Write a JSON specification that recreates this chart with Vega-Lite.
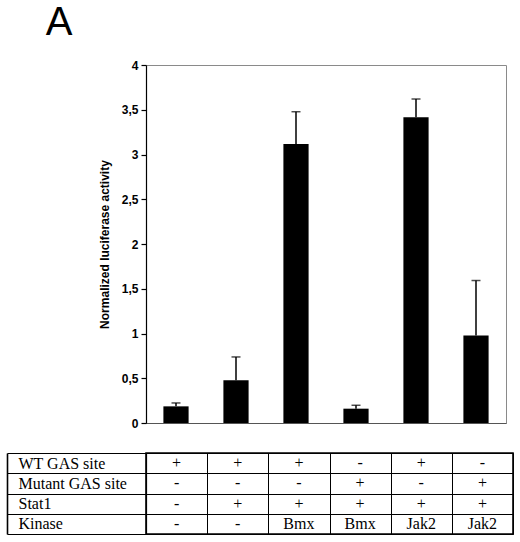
{
  "$schema": "https://vega.github.io/schema/vega-lite/v6.json",
  "padding": {"left": 5, "top": 2, "right": 5, "bottom": 5},
  "background": "white",
  "title": {"text": "A", "anchor": "start", "frame": "bounds", "font": "Liberation Sans", "fontSize": 40, "fontWeight": "normal", "color": "black", "dx": 40, "offset": 16},
  "datasets": {
    "conds": [
      {"cond": "c1", "mean": 0.186, "upper": 0.224, "WT GAS site": "+", "Mutant GAS site": "-", "Stat1": "-", "Kinase": "-"},
      {"cond": "c2", "mean": 0.477, "upper": 0.738, "WT GAS site": "+", "Mutant GAS site": "-", "Stat1": "+", "Kinase": "-"},
      {"cond": "c3", "mean": 3.117, "upper": 3.478, "WT GAS site": "+", "Mutant GAS site": "-", "Stat1": "+", "Kinase": "Bmx"},
      {"cond": "c4", "mean": 0.160, "upper": 0.198, "WT GAS site": "-", "Mutant GAS site": "+", "Stat1": "+", "Kinase": "Bmx"},
      {"cond": "c5", "mean": 3.415, "upper": 3.620, "WT GAS site": "+", "Mutant GAS site": "-", "Stat1": "+", "Kinase": "Jak2"},
      {"cond": "c6", "mean": 0.977, "upper": 1.592, "WT GAS site": "-", "Mutant GAS site": "+", "Stat1": "+", "Kinase": "Jak2"}
    ]
  },
  "bounds": "flush",
  "spacing": 30,
  "vconcat": [
    {
      "width": 360,
      "height": 358,
      "view": {"stroke": "#8a8a8a", "strokeWidth": 1},
      "data": {"name": "conds"},
      "encoding": {
        "x": {"field": "cond", "type": "nominal", "sort": null,
          "scale": {"paddingInner": 0.58, "paddingOuter": 0.29},
          "axis": {"title": null, "labels": false, "ticks": false, "domain": true, "domainColor": "#555555", "domainWidth": 1.2}}
      },
      "layer": [
        {
          "mark": {"type": "rule", "color": "black", "strokeWidth": 1.5},
          "encoding": {
            "y": {"field": "mean", "type": "quantitative"},
            "y2": {"field": "upper"}
          }
        },
        {
          "mark": {"type": "tick", "color": "black", "size": 9, "thickness": 1.5, "orient": "horizontal"},
          "encoding": {
            "y": {"field": "upper", "type": "quantitative"}
          }
        },
        {
          "mark": {"type": "bar", "color": "black"},
          "encoding": {
            "y": {"field": "mean", "type": "quantitative",
              "scale": {"domain": [0, 4], "nice": false, "zero": true},
              "axis": {"values": [0, 0.5, 1, 1.5, 2, 2.5, 3, 3.5, 4], "format": "~g",
                "labelExpr": "replace(datum.label, '.', ',')",
                "grid": false, "domainColor": "black", "domainWidth": 1.2, "tickColor": "black", "tickSize": 5, "tickWidth": 1.2,
                "labelFont": "Liberation Sans", "labelFontSize": 12, "labelFontWeight": "bold", "labelColor": "black", "labelPadding": 3,
                "title": "Normalized luciferase activity", "titleFont": "Liberation Sans", "titleFontSize": 12, "titleFontWeight": "bold", "titleColor": "black", "titlePadding": 10}}
          }
        }
      ]
    },
    {
      "width": 367,
      "height": 81,
      "view": {"stroke": "black", "strokeWidth": 1.6},
      "data": {"name": "conds"},
      "transform": [{"fold": ["WT GAS site", "Mutant GAS site", "Stat1", "Kinase"], "as": ["row", "sign"]}],
      "encoding": {
        "x": {"field": "cond", "type": "nominal", "sort": null,
          "scale": {"paddingInner": 0, "paddingOuter": 0},
          "axis": {"title": null, "labels": false, "ticks": false, "domain": false, "grid": true, "tickBand": "extent", "gridColor": "black", "gridOpacity": 1, "gridWidth": 1}},
        "y": {"field": "row", "type": "nominal", "sort": ["WT GAS site", "Mutant GAS site", "Stat1", "Kinase"],
          "scale": {"paddingInner": 0, "paddingOuter": 0}}
      },
      "layer": [
        {
          "mark": {"type": "text", "font": "Liberation Serif", "fontSize": 16, "color": "black"},
          "encoding": {
            "text": {"field": "sign"},
            "y": {"field": "row", "type": "nominal", "sort": ["WT GAS site", "Mutant GAS site", "Stat1", "Kinase"],
              "axis": {"title": null, "tickBand": "extent", "tickSize": 139, "tickColor": "black", "tickWidth": 1,
                "grid": true, "gridColor": "black", "gridOpacity": 1, "gridWidth": 1,
                "domainColor": "black", "domainWidth": 1.2,
                "labelAlign": "left", "labelBaseline": "middle", "labelPadding": -11,
                "labelFont": "Liberation Serif", "labelFontSize": 16, "labelColor": "black"}}
          }
        },
        {
          "mark": {"type": "text", "opacity": 0},
          "encoding": {
            "text": {"field": "sign"},
            "y": {"field": "row", "type": "nominal", "sort": ["WT GAS site", "Mutant GAS site", "Stat1", "Kinase"],
              "axis": {"orient": "left", "offset": 139, "title": null, "labels": false, "ticks": false, "grid": false, "domain": true, "domainColor": "black", "domainWidth": 1.6}}
          }
        }
      ],
      "resolve": {"axis": {"y": "independent"}}
    }
  ]
}
